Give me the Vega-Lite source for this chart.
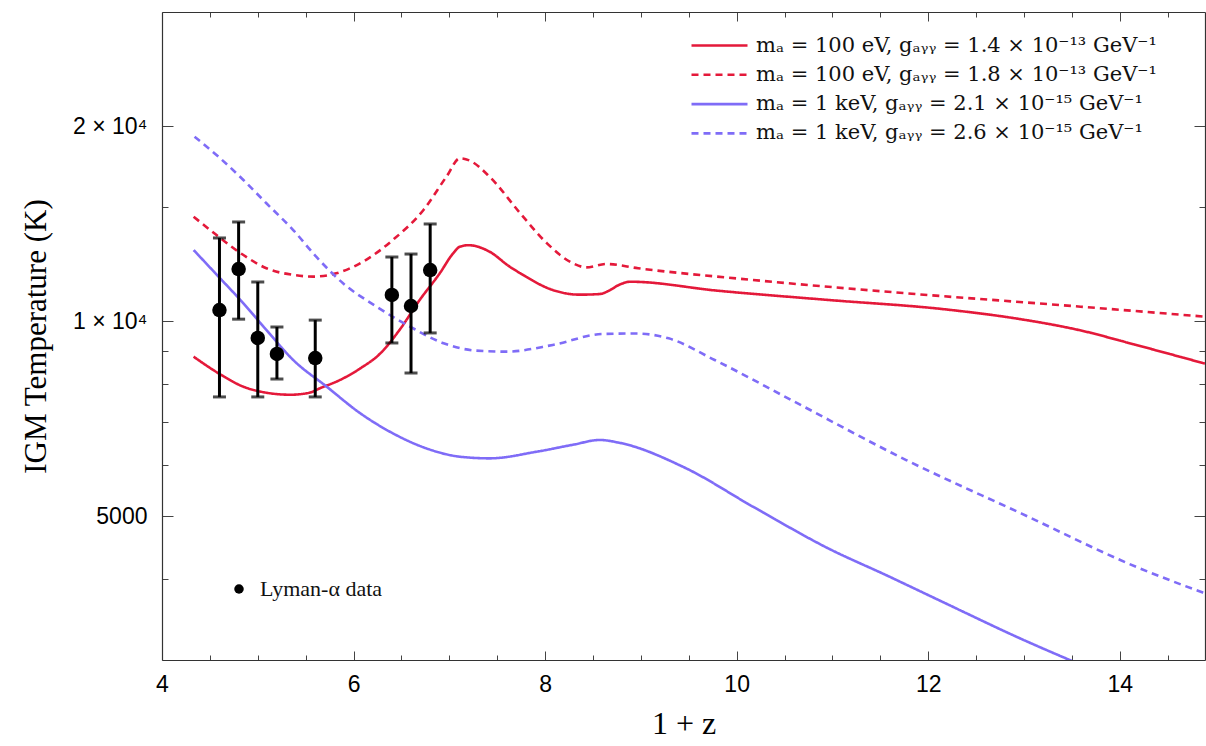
{
  "$schema": "https://vega.github.io/schema/vega-lite/v6.json",
  "width": 1043,
  "height": 648,
  "autosize": "none",
  "padding": {"left": 162, "top": 12, "right": 1, "bottom": 86},
  "background": "white",
  "config": {
    "view": {"stroke": null},
    "axis": {"grid": false, "labelFont": "Liberation Sans", "labelFontSize": 23, "labelColor": "black", "titleFont": "Liberation Serif", "titleFontWeight": "normal", "titleColor": "black", "domainColor": "#333", "tickColor": "#444", "domainWidth": 1.2}
  },
  "datasets": {
    "curves": [
      {"z": 4.33, "T": 8815, "series": "A"},
      {"z": 4.59, "T": 8310, "series": "A"},
      {"z": 4.85, "T": 7923, "series": "A"},
      {"z": 5.09, "T": 7755, "series": "A"},
      {"z": 5.34, "T": 7700, "series": "A"},
      {"z": 5.54, "T": 7755, "series": "A"},
      {"z": 5.65, "T": 7880, "series": "A"},
      {"z": 5.86, "T": 8116, "series": "A"},
      {"z": 6.07, "T": 8455, "series": "A"},
      {"z": 6.28, "T": 8919, "series": "A"},
      {"z": 6.48, "T": 9693, "series": "A"},
      {"z": 6.69, "T": 10779, "series": "A"},
      {"z": 6.9, "T": 11854, "series": "A"},
      {"z": 7.04, "T": 12727, "series": "A"},
      {"z": 7.11, "T": 13030, "series": "A"},
      {"z": 7.2, "T": 13100, "series": "A"},
      {"z": 7.42, "T": 12801, "series": "A"},
      {"z": 7.63, "T": 12138, "series": "A"},
      {"z": 7.74, "T": 11859, "series": "A"},
      {"z": 8.08, "T": 11171, "series": "A"},
      {"z": 8.36, "T": 10988, "series": "A"},
      {"z": 8.57, "T": 11013, "series": "A"},
      {"z": 8.67, "T": 11150, "series": "A"},
      {"z": 8.77, "T": 11373, "series": "A"},
      {"z": 8.89, "T": 11505, "series": "A"},
      {"z": 9.8, "T": 11144, "series": "A"},
      {"z": 10.97, "T": 10779, "series": "A"},
      {"z": 12.17, "T": 10432, "series": "A"},
      {"z": 12.97, "T": 10068, "series": "A"},
      {"z": 13.57, "T": 9693, "series": "A"},
      {"z": 14.17, "T": 9190, "series": "A"},
      {"z": 14.89, "T": 8600, "series": "A"},

      {"z": 4.33, "T": 14497, "series": "B"},
      {"z": 4.59, "T": 13504, "series": "B"},
      {"z": 4.85, "T": 12650, "series": "B"},
      {"z": 5.09, "T": 12069, "series": "B"},
      {"z": 5.37, "T": 11788, "series": "B"},
      {"z": 5.58, "T": 11716, "series": "B"},
      {"z": 5.82, "T": 11854, "series": "B"},
      {"z": 6.14, "T": 12459, "series": "B"},
      {"z": 6.41, "T": 13344, "series": "B"},
      {"z": 6.73, "T": 14847, "series": "B"},
      {"z": 6.97, "T": 16711, "series": "B"},
      {"z": 7.11, "T": 17839, "series": "B"},
      {"z": 7.21, "T": 17700, "series": "B"},
      {"z": 7.42, "T": 16711, "series": "B"},
      {"z": 7.74, "T": 14673, "series": "B"},
      {"z": 8.02, "T": 13186, "series": "B"},
      {"z": 8.29, "T": 12285, "series": "B"},
      {"z": 8.43, "T": 12107, "series": "B"},
      {"z": 8.64, "T": 12253, "series": "B"},
      {"z": 8.97, "T": 12069, "series": "B"},
      {"z": 10.17, "T": 11577, "series": "B"},
      {"z": 11.77, "T": 11042, "series": "B"},
      {"z": 13.37, "T": 10591, "series": "B"},
      {"z": 14.89, "T": 10162, "series": "B"},

      {"z": 4.33, "T": 12877, "series": "C"},
      {"z": 4.59, "T": 11716, "series": "C"},
      {"z": 4.85, "T": 10654, "series": "C"},
      {"z": 5.09, "T": 9693, "series": "C"},
      {"z": 5.37, "T": 8712, "series": "C"},
      {"z": 5.72, "T": 7923, "series": "C"},
      {"z": 6.07, "T": 7209, "series": "C"},
      {"z": 6.41, "T": 6714, "series": "C"},
      {"z": 6.76, "T": 6364, "series": "C"},
      {"z": 7.11, "T": 6178, "series": "C"},
      {"z": 7.42, "T": 6142, "series": "C"},
      {"z": 7.91, "T": 6288, "series": "C"},
      {"z": 8.3, "T": 6450, "series": "C"},
      {"z": 8.57, "T": 6557, "series": "C"},
      {"z": 8.77, "T": 6494, "series": "C"},
      {"z": 9.45, "T": 5950, "series": "C"},
      {"z": 10.17, "T": 5173, "series": "C"},
      {"z": 10.97, "T": 4450, "series": "C"},
      {"z": 11.57, "T": 4050, "series": "C"},
      {"z": 12.17, "T": 3676, "series": "C"},
      {"z": 12.97, "T": 3234, "series": "C"},
      {"z": 13.5, "T": 2990, "series": "C"},

      {"z": 4.34, "T": 19264, "series": "D"},
      {"z": 4.59, "T": 17935, "series": "D"},
      {"z": 4.85, "T": 16513, "series": "D"},
      {"z": 5.09, "T": 15203, "series": "D"},
      {"z": 5.37, "T": 13825, "series": "D"},
      {"z": 5.61, "T": 12575, "series": "D"},
      {"z": 5.89, "T": 11443, "series": "D"},
      {"z": 6.24, "T": 10529, "series": "D"},
      {"z": 6.59, "T": 9808, "series": "D"},
      {"z": 6.94, "T": 9245, "series": "D"},
      {"z": 7.28, "T": 9006, "series": "D"},
      {"z": 7.6, "T": 8974, "series": "D"},
      {"z": 8.08, "T": 9190, "series": "D"},
      {"z": 8.6, "T": 9556, "series": "D"},
      {"z": 8.95, "T": 9571, "series": "D"},
      {"z": 9.29, "T": 9408, "series": "D"},
      {"z": 9.77, "T": 8712, "series": "D"},
      {"z": 10.57, "T": 7557, "series": "D"},
      {"z": 11.77, "T": 6105, "series": "D"},
      {"z": 12.97, "T": 5051, "series": "D"},
      {"z": 14.17, "T": 4178, "series": "D"},
      {"z": 14.89, "T": 3801, "series": "D"}
    ],
    "lyman": [
      {"z": 4.6, "T": 10405, "lo": 7640, "hi": 13440, "label": "Lyman-α data"},
      {"z": 4.8, "T": 12036, "lo": 10072, "hi": 14226, "label": "Lyman-α data"},
      {"z": 5.0, "T": 9420, "lo": 7640, "hi": 11494, "label": "Lyman-α data"},
      {"z": 5.2, "T": 8901, "lo": 8142, "hi": 9795, "label": "Lyman-α data"},
      {"z": 5.6, "T": 8773, "lo": 7640, "hi": 10038, "label": "Lyman-α data"},
      {"z": 6.4, "T": 10976, "lo": 9255, "hi": 12561, "label": "Lyman-α data"},
      {"z": 6.6, "T": 10554, "lo": 8318, "hi": 12694, "label": "Lyman-α data"},
      {"z": 6.8, "T": 11994, "lo": 9591, "hi": 14125, "label": "Lyman-α data"}
    ]
  },
  "layer": [
    {
      "data": {"name": "curves"},
      "mark": {"type": "line", "strokeWidth": 2.6, "clip": true, "interpolate": "monotone"},
      "encoding": {
        "x": {"field": "z", "type": "quantitative", "scale": {"domain": [4, 14.89], "nice": false, "zero": false},
          "axis": {"orient": "bottom", "title": "1 + z", "titleFontSize": 32, "titlePadding": 8,
            "values": [4, 4.5, 5, 5.5, 6, 6.5, 7, 7.5, 8, 8.5, 9, 9.5, 10, 10.5, 11, 11.5, 12, 12.5, 13, 13.5, 14, 14.5],
            "labelExpr": "datum.value % 2 == 0 ? format(datum.value, 'd') : ''",
            "tickSize": {"condition": {"test": "datum.value % 2 == 0", "value": -9}, "value": -5},
            "labelPadding": 22, "labelFlush": false, "labelOverlap": false}},
        "y": {"field": "T", "type": "quantitative", "scale": {"type": "log", "domain": [3000, 30000], "nice": false},
          "axis": {"orient": "left", "title": "IGM Temperature (K)", "titleFontSize": 31, "titlePadding": 20,
            "values": [4000, 5000, 6000, 7000, 8000, 9000, 10000, 15000, 20000],
            "labelExpr": "datum.value == 20000 ? '2 × 10⁴' : datum.value == 10000 ? '1 × 10⁴' : datum.value == 5000 ? '5000' : ''",
            "tickSize": {"condition": {"test": "datum.value == 5000 || datum.value == 10000 || datum.value == 20000", "value": -11}, "value": -6},
            "labelPadding": 26, "labelOverlap": false}},
        "color": {"field": "series", "type": "nominal",
          "scale": {"domain": ["A", "B", "C", "D"], "range": ["#e4193a", "#e4193a", "#7f6cf7", "#7f6cf7"]},
          "legend": {"orient": "none", "legendX": 546, "legendY": 22, "title": null, "symbolType": "M-2.8,0H2.8", "symbolSize": 400, "symbolStrokeWidth": 2.6, "labelFont": "DejaVu Serif", "labelFontSize": 21, "labelLimit": 700, "rowPadding": 7.3, "labelOffset": 25, "labelColor": "#111",
            "labelExpr": "datum.value == 'A' ? 'mₐ  =  100 eV,   gₐᵧᵧ  =  1.4 × 10⁻¹³  GeV⁻¹' : datum.value == 'B' ? 'mₐ  =  100 eV,   gₐᵧᵧ  =  1.8 × 10⁻¹³  GeV⁻¹' : datum.value == 'C' ? 'mₐ  =  1 keV,   gₐᵧᵧ  =  2.1 × 10⁻¹⁵  GeV⁻¹' : 'mₐ  =  1 keV,   gₐᵧᵧ  =  2.6 × 10⁻¹⁵  GeV⁻¹'"}},
        "strokeDash": {"field": "series", "type": "nominal",
          "scale": {"domain": ["A", "B", "C", "D"], "range": [[1, 0], [7, 5], [1, 0], [7, 5]]},
          "legend": {"orient": "none", "legendX": 546, "legendY": 22, "title": null, "symbolType": "M-2.8,0H2.8", "symbolSize": 400, "symbolStrokeWidth": 2.6, "labelFont": "DejaVu Serif", "labelFontSize": 21, "labelLimit": 700, "rowPadding": 7.3, "labelOffset": 25, "labelColor": "#111",
            "labelExpr": "datum.value == 'A' ? 'mₐ  =  100 eV,   gₐᵧᵧ  =  1.4 × 10⁻¹³  GeV⁻¹' : datum.value == 'B' ? 'mₐ  =  100 eV,   gₐᵧᵧ  =  1.8 × 10⁻¹³  GeV⁻¹' : datum.value == 'C' ? 'mₐ  =  1 keV,   gₐᵧᵧ  =  2.1 × 10⁻¹⁵  GeV⁻¹' : 'mₐ  =  1 keV,   gₐᵧᵧ  =  2.6 × 10⁻¹⁵  GeV⁻¹'"}}
      }
    },
    {
      "data": {"name": "lyman"},
      "mark": {"type": "errorbar", "ticks": {"size": 13, "thickness": 3, "color": "black"}, "thickness": 3, "color": "black"},
      "encoding": {
        "x": {"field": "z", "type": "quantitative", "axis": null},
        "y": {"field": "lo", "type": "quantitative", "axis": null},
        "y2": {"field": "hi"}
      }
    },
    {
      "data": {"name": "lyman"},
      "mark": {"type": "point", "filled": true, "color": "black", "opacity": 1, "size": 210},
      "encoding": {
        "x": {"field": "z", "type": "quantitative", "axis": null},
        "y": {"field": "T", "type": "quantitative", "axis": null},
        "shape": {"field": "label", "type": "nominal", "scale": {"range": ["circle"]},
          "legend": {"orient": "none", "legendX": 66, "legendY": 566, "title": null, "symbolSize": 90, "symbolFillColor": "black", "symbolStrokeColor": "black", "labelFont": "Liberation Serif", "labelFontSize": 22, "labelOffset": 10, "labelColor": "#111"}}
      }
    },
    {
      "data": {"name": "lyman"},
      "mark": {"type": "point", "opacity": 0},
      "encoding": {
        "x": {"field": "z", "type": "quantitative",
          "axis": {"orient": "top", "title": null, "labels": false, "values": [4, 4.5, 5, 5.5, 6, 6.5, 7, 7.5, 8, 8.5, 9, 9.5, 10, 10.5, 11, 11.5, 12, 12.5, 13, 13.5, 14, 14.5],
            "tickSize": {"condition": {"test": "datum.value % 2 == 0", "value": -9}, "value": -5}}},
        "y": {"field": "T", "type": "quantitative",
          "axis": {"orient": "right", "title": null, "labels": false, "values": [4000, 5000, 6000, 7000, 8000, 9000, 10000, 15000, 20000],
            "tickSize": {"condition": {"test": "datum.value == 5000 || datum.value == 10000 || datum.value == 20000", "value": -11}, "value": -6}}}
      }
    }
  ],
  "resolve": {"axis": {"x": "independent", "y": "independent"}}
}
